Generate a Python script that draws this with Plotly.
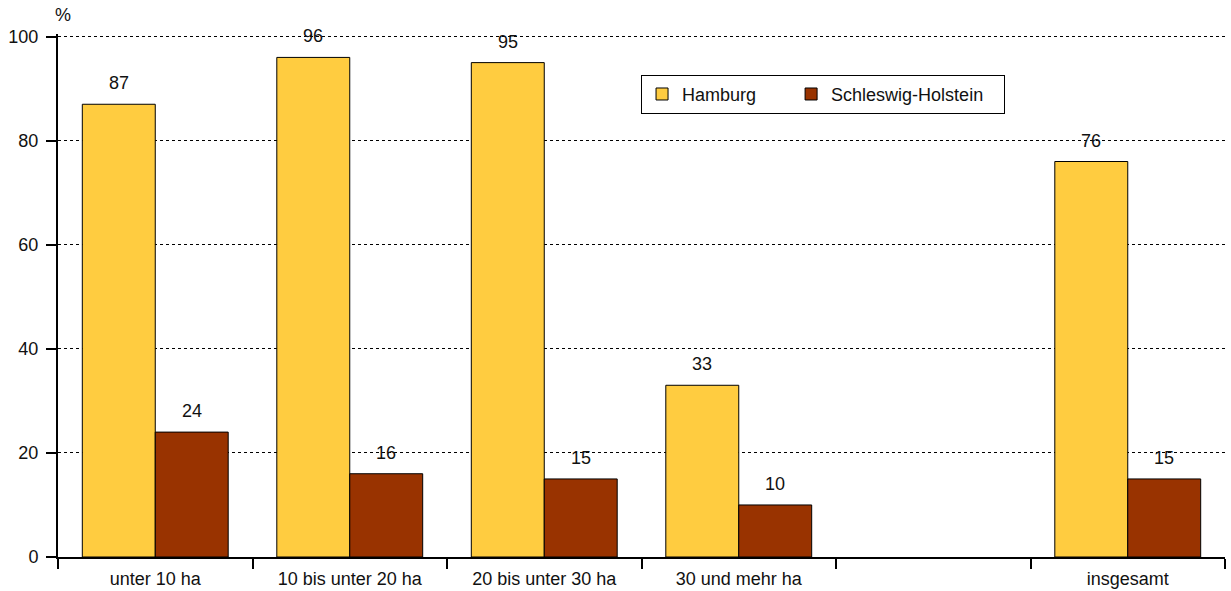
import plotly.graph_objects as go

categories = ["unter 10 ha", "10 bis unter 20 ha", "20 bis unter 30 ha", "30 und mehr ha", " ", "insgesamt"]
hamburg = [87, 96, 95, 33, None, 76]
schleswig_holstein = [24, 16, 15, 10, None, 15]
y_ticks = [0, 20, 40, 60, 80, 100]

font = dict(family="Liberation Sans, Arial, sans-serif", size=18, color="#111111")

W, H = 1231, 591
margin = dict(l=58, r=6, t=34, b=34)
bargap = 0.25

# half a bar width in px, used to put the value labels over each bar
slot = (W - margin["l"] - margin["r"]) / len(categories)
half_bar = slot * (1 - bargap) / 4

fig = go.Figure()
fig.add_trace(go.Bar(
    x=categories, y=hamburg, name="Hamburg" + "\u00a0" * 6,
    marker=dict(color="#FFCC40", line=dict(color="#000000", width=1)),
))
fig.add_trace(go.Bar(
    x=categories, y=schleswig_holstein, name="Schleswig-Holstein" + "\u00a0" * 3,
    marker=dict(color="#993300", line=dict(color="#000000", width=1)),
))

annotations = [dict(
    text="%", xref="paper", yref="paper", x=0.0, y=1.0, yshift=19, xshift=5,
    xanchor="center", yanchor="middle", showarrow=False, font=font,
)]
for vals, side in ((hamburg, -1), (schleswig_holstein, 1)):
    for cat, v in zip(categories, vals):
        if v is None:
            continue
        annotations.append(dict(
            text=str(v), x=cat, y=v, xref="x", yref="y",
            xshift=side * half_bar, yshift=21, yanchor="middle",
            showarrow=False, font=font,
        ))

fig.update_layout(
    width=W, height=H,
    margin=margin,
    paper_bgcolor="white", plot_bgcolor="white",
    font=font,
    barmode="group", bargap=bargap, bargroupgap=0,
    showlegend=True,
    legend=dict(
        orientation="h", x=0.4996, y=0.922, xanchor="left", yanchor="top",
        bordercolor="#000000", borderwidth=1, bgcolor="white",
        font=font,
    ),
    annotations=annotations,
)
fig.update_xaxes(
    type="category", categoryorder="array", categoryarray=categories,
    tickson="boundaries", ticks="outside", ticklen=10, tickwidth=2, tickcolor="#000000",
    showline=True, linecolor="#000000", linewidth=2, showgrid=False,
    tickfont=font, automargin=False, ticklabelstandoff=4,
)
fig.update_yaxes(
    range=[0, 100.5], tickvals=y_ticks, ticks="outside", ticklen=10, tickwidth=2,
    tickcolor="#000000", showline=True, linecolor="#000000", linewidth=2,
    showgrid=True, gridcolor="#000000", gridwidth=1, griddash="dot",
    zeroline=False, tickfont=font, automargin=False, ticklabelstandoff=4,
)

# drop the browser's default 8px body margin so the chart sits at the window edge
fig.write_html(
    "out.html",
    config={"displayModeBar": False},
    post_script="document.body.style.margin = '0';",
)
